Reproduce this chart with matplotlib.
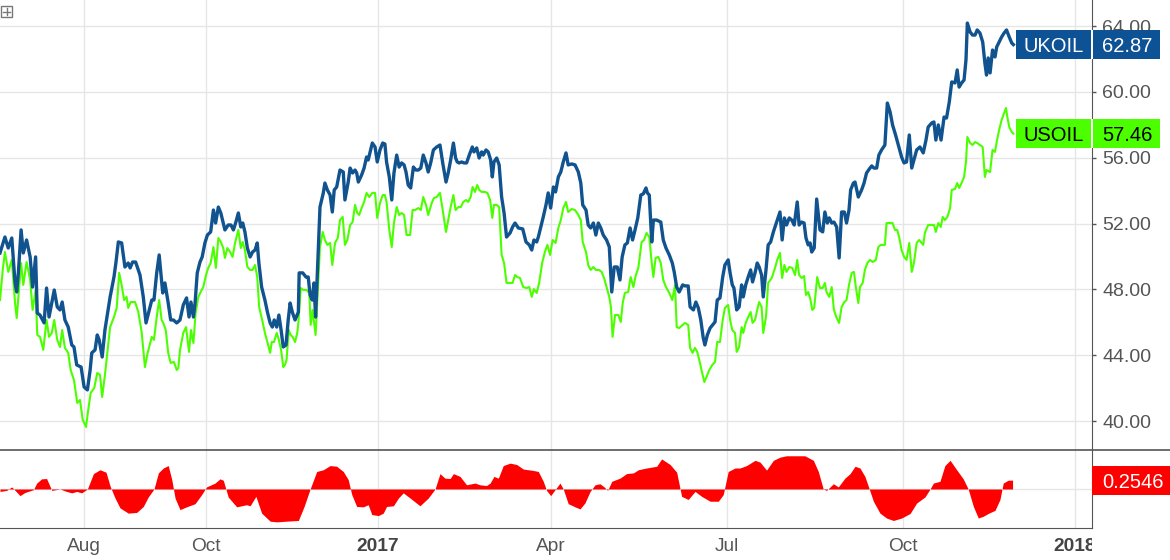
import matplotlib
matplotlib.use('Agg')
import matplotlib.pyplot as plt
from matplotlib.patches import Rectangle
from matplotlib.lines import Line2D

plt.rcParams['font.family'] = ['Liberation Sans', 'DejaVu Sans']

# trading-day index (0 = left edge of the chart, mid June 2016)
uk_day = [
    0.0, 1.8, 3.0, 4.3, 5.5, 6.1, 6.7, 7.7, 8.5, 9.7,
    11.0, 11.9, 13.0, 13.6, 14.6, 16.1, 17.0, 17.9, 19.8, 20.9,
    21.9, 22.7, 23.7, 24.9, 26.2, 27.0, 28.0, 29.6, 30.7, 31.9,
    32.9, 33.5, 34.7, 35.5, 36.2, 37.3, 38.3, 40.2, 41.6, 42.3,
    43.2, 44.4, 45.6, 46.8, 47.5, 48.4, 49.5, 51.1, 52.3, 53.3,
    54.5, 55.4, 56.2, 57.2, 58.1, 59.4, 60.2, 61.4, 62.3, 63.3,
    64.5, 65.7, 66.9, 68.1, 69.0, 69.7, 70.6, 71.2, 72.0, 73.0,
    73.8, 74.8, 75.7, 76.9, 77.9, 78.7, 79.7, 80.6, 81.5, 82.1,
    83.3, 84.3, 85.2, 86.1, 87.0, 87.9, 88.6, 89.4, 90.3, 91.3,
    92.2, 93.1, 93.9, 94.5, 95.5, 96.7, 97.7, 98.6, 99.4, 100.1,
    101.0, 101.8, 102.6, 103.4, 104.4, 105.2, 105.9, 106.7, 107.7, 108.9,
    109.2, 110.5, 111.7, 112.5, 113.2, 114.0, 114.6, 115.2, 116.0, 116.8,
    118.0, 118.6, 119.5, 120.5, 121.3, 122.0, 122.9, 124.1, 125.3, 125.9,
    127.1, 127.8, 128.7, 129.6, 130.2, 130.8, 132.0, 132.9, 133.8, 134.4,
    135.1, 135.9, 136.9, 137.7, 138.7, 139.7, 140.5, 141.1, 142.1, 143.0,
    143.8, 144.8, 145.7, 146.6, 147.5, 148.2, 149.0, 149.9, 150.9, 151.8,
    152.7, 153.6, 154.5, 155.5, 156.3, 157.2, 158.2, 159.4, 160.6, 161.6,
    162.8, 163.6, 164.5, 165.5, 166.3, 166.9, 167.6, 168.5, 169.4, 170.3,
    171.3, 172.4, 173.0, 174.0, 174.9, 175.8, 176.4, 177.4, 178.2, 179.1,
    179.7, 180.3, 181.3, 182.2, 183.1, 184.0, 184.9, 186.2, 187.1, 188.0,
    189.2, 190.8, 192.0, 193.2, 194.1, 194.9, 195.9, 196.5, 197.4, 198.3,
    199.3, 200.1, 201.0, 202.0, 202.8, 203.8, 204.7, 205.6, 206.6, 207.4,
    208.7, 209.9, 211.1, 212.0, 212.7, 213.9, 214.7, 215.6, 216.6, 217.5,
    218.4, 219.3, 220.2, 221.4, 222.4, 223.3, 224.2, 225.3, 226.3, 227.1,
    228.1, 229.0, 230.0, 230.9, 231.8, 232.8, 233.9, 234.8, 235.8, 236.3,
    237.0, 237.9, 238.5, 239.7, 241.2, 242.1, 243.1, 244.3, 245.4, 246.1,
    247.0, 247.9, 249.2, 250.0, 251.2, 251.9, 253.1, 254.0, 254.9, 255.8,
    256.7, 257.3, 258.2, 259.2, 260.1, 261.0, 261.8, 262.8, 263.8, 264.6,
    265.8, 266.5, 267.3, 267.9, 268.9, 269.8, 270.7, 271.3, 272.2, 273.1,
    274.0, 274.7, 275.6, 276.4, 277.1, 278.0, 278.6, 279.6, 280.4, 281.3,
    282.3, 283.5, 284.7, 285.5, 286.3, 287.1, 288.1, 289.0, 289.9, 291.0,
    291.7, 292.6, 293.5, 294.2, 295.0, 295.7, 296.3, 297.2, 298.1, 299.3,
    300.3, 301.1, 302.0, 302.7, 303.6, 304.4, 305.4, 306.3, 307.2, 308.2,
    309.0, 309.9, 310.5, 311.5, 312.1, 313.3, 314.5, 315.4, 316.3, 317.3,
    318.2, 319.0, 320.0, 320.8, 321.8, 323.0, 323.9, 324.9, 325.8, 326.9,
    327.9, 329.1, 330.0, 330.9, 331.9, 332.8, 333.6, 334.6, 335.8, 337.0,
    338.0, 338.8, 340.1, 340.9, 341.6, 342.5, 343.5, 344.6, 345.5, 346.5,
    347.4, 348.6, 349.4, 350.1, 351.0, 351.9, 352.6, 353.1, 354.1, 355.0,
    355.9, 356.7, 357.7, 358.7, 359.5, 360.1, 360.7, 361.4, 362.3, 363.2,
    363.8, 364.7, 365.6, 366.5, 367.4, 368.4, 369.3, 369.9]
uk_price = [
    50.21, 51.18, 50.51, 51.12, 48.39, 47.84, 49.00, 51.61, 50.21, 51.00,
    49.97, 48.14, 49.97, 46.56, 46.44, 45.96, 48.08, 46.32, 47.96, 46.93,
    46.75, 47.23, 46.14, 45.71, 44.62, 44.50, 43.41, 43.28, 42.07, 41.89,
    43.10, 44.14, 44.32, 45.23, 44.93, 43.89, 45.53, 47.54, 48.75, 49.60,
    50.88, 50.82, 49.36, 49.60, 49.30, 49.66, 49.66, 48.87, 47.54, 45.96,
    46.75, 47.35, 47.35, 49.00, 50.09, 47.78, 48.39, 47.17, 46.14, 46.14,
    45.96, 46.14, 47.05, 47.48, 46.32, 47.23, 46.32, 47.17, 49.00, 49.66,
    49.97, 50.82, 51.30, 51.49, 52.82, 52.03, 53.00, 52.64, 52.03, 51.61,
    51.91, 51.91, 51.61, 52.09, 52.64, 51.79, 52.03, 51.49, 50.51, 49.97,
    50.27, 50.39, 50.82, 49.60, 48.14, 47.35, 46.56, 45.96, 45.71, 46.14,
    45.71, 46.44, 45.53, 44.50, 44.62, 46.14, 47.17, 46.62, 46.14, 46.62,
    49.00, 49.00, 48.75, 48.75, 47.66, 47.35, 48.39, 46.32, 49.60, 53.00,
    53.85, 54.46, 54.04, 53.73, 52.70, 54.04, 54.22, 55.25, 55.13, 53.43,
    54.52, 55.37, 55.07, 55.25, 55.07, 54.52, 54.95, 55.37, 56.04, 55.86,
    56.35, 56.89, 56.65, 55.74, 56.47, 56.89, 56.83, 55.74, 54.83, 53.43,
    55.07, 56.16, 55.43, 55.68, 55.56, 55.13, 54.34, 54.16, 55.43, 55.25,
    55.25, 55.37, 56.16, 55.68, 55.13, 55.68, 56.47, 56.65, 56.77, 55.68,
    54.52, 55.07, 55.86, 56.89, 55.98, 55.74, 55.68, 55.74, 55.68, 55.68,
    56.16, 56.65, 56.35, 56.59, 55.98, 56.35, 56.16, 56.47, 56.35, 55.86,
    54.83, 55.74, 55.98, 55.56, 53.61, 52.64, 51.18, 51.43, 51.79, 52.03,
    51.73, 51.67, 50.88, 50.70, 50.39, 51.00, 50.88, 51.18, 51.79, 52.40,
    53.13, 53.86, 52.94, 54.22, 53.92, 54.83, 55.13, 55.74, 56.29, 55.56,
    55.62, 55.56, 55.13, 54.46, 53.13, 52.82, 51.91, 51.73, 52.03, 51.30,
    52.03, 51.73, 51.30, 51.00, 50.58, 47.84, 49.36, 49.36, 48.57, 49.97,
    50.70, 50.82, 51.73, 51.00, 51.61, 52.34, 53.73, 53.80, 54.16, 53.86,
    53.73, 50.88, 52.21, 52.21, 52.09, 51.00, 50.51, 50.09, 49.60, 49.06,
    48.14, 47.84, 48.27, 48.21, 48.21, 46.93, 46.75, 47.23, 46.87, 46.14,
    45.05, 44.62, 45.23, 45.65, 45.84, 46.02, 47.35, 47.48, 48.75, 49.48,
    49.79, 49.00, 48.27, 48.08, 46.75, 46.93, 48.27, 47.54, 48.27, 48.75,
    49.18, 48.45, 49.00, 49.60, 49.36, 48.87, 47.54, 49.18, 50.70, 50.88,
    51.49, 52.09, 52.70, 51.00, 52.34, 51.91, 52.34, 52.21, 51.91, 53.31,
    51.91, 52.09, 52.03, 51.12, 50.70, 50.82, 50.27, 50.51, 53.49, 51.61,
    51.49, 52.70, 52.03, 52.34, 52.03, 52.09, 51.79, 49.91, 52.70, 52.70,
    52.03, 52.82, 54.04, 54.46, 54.52, 53.61, 54.04, 54.46, 55.07, 55.31,
    55.50, 55.37, 55.37, 56.16, 56.47, 56.77, 59.32, 58.78, 57.99, 57.38,
    56.77, 56.04, 55.68, 55.74, 57.38, 55.37, 55.86, 56.47, 56.65, 56.29,
    57.07, 57.86, 58.11, 58.17, 57.07, 57.99, 57.07, 58.47, 58.41, 59.38,
    60.60, 60.54, 61.33, 60.29, 60.54, 60.72, 61.94, 64.18, 63.64, 63.45,
    63.45, 63.76, 63.57, 63.03, 61.75, 61.02, 62.06, 61.15, 62.54, 62.12,
    62.72, 63.03, 63.33, 63.57, 63.76, 63.33, 62.97, 62.87]

us_day = [
    0.0, 1.0, 1.8, 3.0, 4.3, 5.5, 6.1, 6.7, 7.7, 8.5,
    9.7, 11.0, 11.9, 13.0, 13.6, 14.6, 15.8, 17.0, 17.9, 18.9,
    19.8, 20.9, 21.9, 22.7, 23.7, 24.9, 25.8, 27.0, 28.2, 29.2,
    30.2, 31.4, 32.2, 33.1, 34.4, 35.5, 36.5, 37.3, 38.3, 40.2,
    41.6, 42.6, 43.5, 44.4, 45.3, 46.2, 46.8, 47.7, 49.3, 50.5,
    51.7, 52.9, 53.9, 55.4, 56.2, 57.2, 58.1, 59.0, 59.6, 60.5,
    61.4, 62.3, 63.5, 64.5, 65.1, 65.7, 66.9, 67.9, 69.0, 69.7,
    70.6, 71.4, 72.4, 73.6, 74.2, 75.2, 76.0, 76.9, 77.9, 78.8,
    79.7, 80.6, 81.5, 82.1, 83.0, 84.0, 84.9, 85.8, 87.0, 87.9,
    88.6, 89.4, 90.3, 91.3, 92.2, 93.1, 93.9, 94.6, 95.7, 96.7,
    97.7, 98.6, 99.2, 100.0, 101.0, 101.8, 102.6, 103.4, 104.0, 104.6,
    105.4, 106.1, 106.8, 107.7, 108.5, 108.9, 109.8, 110.7, 111.9, 112.9,
    113.4, 114.1, 115.2, 116.0, 116.8, 117.8, 118.6, 119.5, 120.5, 121.3,
    122.3, 123.3, 124.1, 125.1, 125.9, 126.8, 127.8, 128.7, 129.6, 130.4,
    131.1, 132.0, 132.9, 133.8, 134.8, 135.9, 136.9, 137.7, 138.7, 139.7,
    140.5, 141.1, 142.1, 143.0, 143.8, 144.8, 145.7, 146.6, 147.5, 148.4,
    149.7, 150.6, 151.5, 152.7, 153.6, 154.5, 155.5, 156.3, 157.6, 158.4,
    159.4, 160.6, 161.6, 162.8, 163.6, 164.5, 165.5, 166.3, 167.3, 168.2,
    169.1, 170.1, 170.9, 171.8, 172.5, 173.4, 174.2, 174.9, 175.8, 177.0,
    177.9, 178.9, 179.7, 180.3, 181.3, 182.2, 183.1, 184.0, 184.9, 186.2,
    187.1, 188.0, 188.8, 189.8, 191.0, 192.2, 193.2, 194.1, 194.9, 195.9,
    196.8, 197.9, 198.9, 199.8, 200.8, 201.7, 202.8, 203.8, 204.7, 205.6,
    206.6, 207.4, 208.7, 209.9, 211.1, 212.0, 212.7, 213.9, 214.7, 215.6,
    216.6, 217.5, 218.7, 219.6, 220.5, 221.4, 222.4, 223.0, 223.6, 224.5,
    225.7, 226.6, 227.3, 228.1, 229.3, 230.2, 231.2, 232.1, 233.0, 234.2,
    235.1, 236.0, 237.0, 237.9, 238.5, 239.3, 240.3, 241.2, 242.1, 243.1,
    244.3, 245.4, 246.4, 247.0, 247.9, 249.2, 250.0, 251.2, 251.9, 252.8,
    253.7, 254.5, 255.5, 256.3, 257.1, 257.9, 258.9, 260.0, 261.0, 261.8,
    262.8, 263.8, 264.6, 265.8, 266.5, 267.3, 268.3, 268.9, 269.8, 270.7,
    271.3, 272.2, 273.1, 274.0, 274.7, 275.6, 276.4, 277.1, 278.0, 278.6,
    279.6, 280.4, 281.7, 282.9, 283.7, 284.7, 285.5, 286.3, 287.1, 288.1,
    289.2, 290.2, 291.0, 291.7, 292.6, 293.5, 294.2, 295.0, 295.7, 296.5,
    297.2, 298.3, 299.3, 300.3, 301.1, 301.7, 302.7, 303.6, 304.4, 305.4,
    306.3, 307.2, 308.2, 309.0, 309.9, 310.9, 311.7, 312.4, 313.3, 313.9,
    314.9, 315.7, 316.6, 317.6, 318.5, 319.7, 320.6, 321.5, 323.0, 323.6,
    324.6, 325.8, 326.7, 327.5, 328.2, 329.1, 330.0, 330.9, 331.9, 332.8,
    333.6, 334.6, 335.5, 336.4, 337.0, 337.6, 338.8, 340.1, 340.9, 341.6,
    342.5, 343.4, 344.1, 344.9, 345.8, 346.8, 347.4, 348.6, 349.4, 350.1,
    351.0, 351.9, 352.6, 353.1, 354.1, 355.0, 355.9, 356.7, 357.7, 358.7,
    359.5, 360.1, 361.4, 362.3, 363.2, 363.8, 364.7, 365.6, 366.5, 367.2,
    367.7, 368.4, 369.3, 369.9]
us_price = [
    47.35, 49.18, 50.27, 49.06, 49.79, 47.17, 46.26, 47.54, 49.60, 48.27,
    49.66, 48.57, 46.75, 47.96, 45.23, 45.11, 44.32, 46.14, 45.11, 45.35,
    46.14, 44.93, 44.50, 45.53, 44.44, 44.14, 43.10, 42.49, 41.10, 41.28,
    40.07, 39.64, 40.67, 41.71, 42.01, 42.92, 42.80, 41.46, 42.80, 45.71,
    46.32, 46.87, 49.00, 48.27, 47.35, 47.54, 46.87, 47.23, 47.23, 46.62,
    45.41, 43.28, 44.14, 45.11, 44.93, 46.32, 47.35, 46.14, 45.96, 45.53,
    44.14, 43.53, 43.59, 43.10, 43.22, 44.32, 45.35, 45.71, 44.20, 45.53,
    44.74, 46.56, 47.54, 47.96, 48.14, 48.87, 49.30, 49.60, 50.57, 49.30,
    51.12, 50.88, 50.51, 49.91, 50.51, 50.27, 49.97, 50.82, 51.61, 50.51,
    50.88, 50.39, 49.36, 49.18, 49.18, 49.48, 48.75, 46.93, 46.14, 45.35,
    44.74, 44.14, 44.80, 44.80, 45.35, 44.93, 44.32, 43.28, 43.41, 43.71,
    45.53, 45.23, 45.11, 44.80, 45.35, 45.96, 48.08, 47.96, 47.96, 47.78,
    45.84, 46.75, 45.23, 47.96, 50.57, 51.49, 51.00, 50.70, 50.82, 49.48,
    50.82, 51.12, 52.21, 52.40, 50.70, 51.00, 51.91, 52.09, 53.13, 52.64,
    52.52, 52.94, 53.31, 53.86, 53.61, 53.86, 53.86, 52.34, 53.25, 53.73,
    53.73, 53.31, 51.61, 50.57, 52.03, 53.00, 52.52, 52.64, 52.52, 51.30,
    51.30, 52.82, 52.82, 52.94, 52.82, 53.61, 53.13, 52.52, 53.25, 53.55,
    53.61, 53.86, 52.82, 51.49, 52.21, 53.00, 53.73, 52.82, 53.00, 53.00,
    53.31, 53.43, 53.31, 53.61, 54.22, 53.92, 54.34, 54.04, 53.92, 53.92,
    53.86, 53.43, 52.34, 53.13, 53.13, 53.00, 50.09, 49.60, 48.39, 48.39,
    48.39, 48.87, 48.75, 48.69, 48.14, 48.08, 48.14, 47.54, 48.02, 47.78,
    48.39, 49.60, 50.27, 50.70, 50.09, 51.00, 50.82, 51.73, 52.21, 52.94,
    53.31, 52.70, 52.88, 52.82, 52.52, 52.21, 50.88, 50.27, 49.48, 49.18,
    49.36, 49.18, 49.18, 49.06, 48.69, 48.14, 47.54, 46.93, 45.11, 46.44,
    46.44, 46.02, 47.17, 47.78, 47.84, 48.75, 48.14, 48.87, 49.30, 50.88,
    51.00, 51.43, 51.18, 49.60, 48.75, 49.91, 49.97, 49.60, 48.57, 48.14,
    47.78, 47.35, 48.27, 45.71, 45.65, 45.84, 45.96, 45.84, 44.44, 44.14,
    44.44, 44.20, 43.53, 42.92, 42.37, 42.68, 43.10, 43.41, 43.59, 44.80,
    44.80, 46.14, 46.87, 47.05, 46.14, 45.53, 45.35, 44.20, 44.50, 45.71,
    45.35, 45.96, 46.32, 46.62, 45.96, 46.14, 46.75, 47.23, 46.93, 45.35,
    46.32, 48.39, 48.69, 49.30, 49.79, 50.21, 48.69, 49.48, 49.06, 49.36,
    49.30, 48.87, 49.79, 48.87, 48.69, 48.81, 47.66, 47.84, 47.48, 46.75,
    46.87, 48.75, 48.08, 48.08, 48.39, 47.84, 47.54, 48.14, 46.75, 46.26,
    45.96, 46.93, 47.23, 47.35, 48.27, 49.00, 49.06, 48.14, 47.17, 48.14,
    48.39, 49.18, 49.60, 49.79, 49.66, 49.79, 50.57, 50.70, 50.70, 52.03,
    52.03, 52.03, 51.61, 51.61, 51.18, 50.39, 49.97, 49.79, 50.82, 49.06,
    49.60, 50.82, 51.00, 50.82, 50.70, 51.43, 51.91, 51.91, 51.91, 51.49,
    52.03, 51.79, 52.40, 52.21, 52.40, 52.94, 54.04, 54.10, 54.46, 54.16,
    54.46, 54.83, 55.74, 57.26, 56.89, 56.77, 56.95, 56.89, 56.77, 56.65,
    54.83, 55.25, 55.13, 56.47, 56.35, 56.95, 57.68, 58.29, 58.71, 59.02,
    58.47, 57.86, 57.56, 57.46]

# correlation study (lower pane)
corr_day = [
    0.0, 2.4, 4.3, 5.5, 7.3, 9.1, 12.2, 13.4, 15.2, 17.0,
    18.9, 21.9, 24.3, 26.2, 28.0, 29.8, 31.9, 34.1, 36.5, 38.7,
    40.2, 42.0, 43.8, 46.8, 49.9, 52.3, 54.1, 56.2, 57.8, 59.6,
    61.4, 62.7, 63.9, 65.7, 68.1, 71.2, 73.6, 75.4, 78.5, 80.3,
    81.5, 83.3, 86.4, 90.0, 91.3, 93.4, 95.5, 98.6, 101.0, 104.6,
    108.9, 111.0, 113.2, 115.6, 118.0, 120.5, 122.9, 125.3, 127.1, 128.4,
    130.2, 132.6, 134.4, 135.7, 138.1, 139.9, 141.1, 143.6, 145.4, 147.2,
    149.7, 153.3, 156.3, 158.8, 160.6, 162.4, 164.3, 165.5, 167.9, 170.3,
    173.4, 175.2, 177.6, 178.9, 180.3, 181.9, 183.7, 186.2, 188.6, 191.0,
    194.7, 196.5, 198.3, 199.5, 201.0, 202.6, 204.4, 205.6, 207.4, 209.9,
    211.7, 213.5, 215.4, 217.2, 219.0, 220.5, 221.8, 223.3, 226.3, 228.7,
    231.2, 233.0, 236.0, 239.7, 241.5, 244.6, 247.0, 248.8, 251.2, 253.7,
    256.1, 259.2, 262.2, 264.0, 265.8, 268.3, 270.1, 272.5, 275.6, 277.4,
    279.8, 282.3, 284.7, 287.1, 293.8, 296.9, 298.7, 300.5, 301.7, 304.2,
    306.0, 308.4, 310.3, 312.1, 313.9, 315.7, 317.3, 318.8, 321.2, 323.6,
    326.1, 329.1, 332.2, 334.6, 337.6, 339.5, 340.7, 343.1, 344.9, 346.8,
    349.2, 351.6, 353.4, 355.3, 357.1, 358.9, 360.7, 363.2, 365.0, 366.2,
    368.0, 369.6]
corr_val = [
    -0.07, -0.04, 0.06, -0.04, -0.19, -0.10, -0.02, 0.17, 0.29, 0.30,
    -0.04, 0.0, -0.07, -0.11, -0.07, -0.11, 0.0, 0.44, 0.55, 0.48,
    0.08, -0.26, -0.54, -0.69, -0.67, -0.50, -0.23, 0.0, 0.46, 0.60,
    0.67, 0.27, -0.26, -0.59, -0.51, -0.42, -0.16, 0.06, 0.17, 0.29,
    0.25, -0.23, -0.51, -0.45, -0.48, -0.21, -0.69, -0.92, -0.94, -0.92,
    -0.90, -0.50, 0.0, 0.50, 0.55, 0.67, 0.65, 0.50, 0.27, -0.16,
    -0.50, -0.51, -0.45, -0.73, -0.76, -0.69, -0.50, -0.48, -0.26, -0.11,
    -0.26, -0.48, -0.26, 0.0, 0.44, 0.31, 0.30, 0.44, 0.36, 0.12,
    0.17, 0.12, 0.10, 0.17, 0.36, 0.31, 0.67, 0.74, 0.70, 0.57,
    0.53, 0.50, 0.22, -0.04, -0.19, -0.02, 0.17, 0.0, -0.42, -0.51,
    -0.57, -0.40, -0.07, 0.12, 0.15, 0.06, -0.04, 0.22, 0.31, 0.44,
    0.46, 0.55, 0.60, 0.65, 0.86, 0.70, 0.48, -0.21, -0.30, -0.07,
    -0.21, -0.35, -0.35, -0.16, 0.50, 0.60, 0.60, 0.67, 0.82, 0.77,
    0.54, 0.82, 0.91, 0.95, 0.95, 0.82, 0.50, 0.0, -0.04, 0.15,
    0.06, 0.31, 0.44, 0.65, 0.60, 0.36, 0.0, -0.35, -0.69, -0.83,
    -0.90, -0.83, -0.70, -0.40, -0.23, 0.0, 0.17, 0.22, 0.67, 0.82,
    0.55, 0.29, 0.0, -0.50, -0.83, -0.78, -0.70, -0.61, -0.30, 0.17,
    0.25, 0.2546]

price_ticks = [40, 44, 48, 52, 56, 60, 64]
month_pos = [30.7, 75.2, 138.0, 201.1, 265.4, 329.6, 392.4]
month_lbl = ['Aug', 'Oct', '2017', 'Apr', 'Jul', 'Oct', '2018']

UK_COL = '#10538f'
US_COL = '#4cff00'
GRID = '#e6e6e6'
AX_COL = '#555555'

W, H = 1170, 560
fig = plt.figure(figsize=(W / 100, H / 100), dpi=100)
right = 1092 / W
x_max = 398.6

ax = fig.add_axes([0, 1 - 450 / H, right, 450 / H])
axc = fig.add_axes([0, 1 - 528 / H, right, 78 / H])
strip = fig.add_axes([0, 0, right, 32 / H])

# price pane
ax.plot(us_day, us_price, color=US_COL, lw=1.5, solid_joinstyle='round')
ax.plot(uk_day, uk_price, color=UK_COL, lw=2.4, solid_joinstyle='round')
ax.set_xlim(0, x_max)
ax.set_ylim(38.24, 65.58)
ax.set_xticks(month_pos)
ax.set_yticks(price_ticks)
ax.set_yticklabels(['%.2f' % v for v in price_ticks])
ax.yaxis.tick_right()
ax.tick_params(axis='x', length=0, labelbottom=False)
ax.tick_params(axis='y', direction='out', length=3, width=1, color=AX_COL,
               pad=4.5, labelsize=14, labelcolor=AX_COL)
ax.grid(True, color=GRID, lw=1)
for s in ['top', 'left', 'bottom']:
    ax.spines[s].set_visible(False)
ax.spines['right'].set_color(AX_COL)

# correlation pane
axc.fill_between(corr_day, corr_val, 0, color='#ff0000', lw=0, zorder=3)
axc.set_xlim(0, x_max)
axc.set_ylim(-1.115, 1.115)
axc.set_yticks([0])
axc.tick_params(axis='y', length=0, labelleft=False, labelright=False)
axc.set_xticks(month_pos)
axc.set_xticklabels(month_lbl[:-1] + [''])
axc.tick_params(axis='x', length=0, pad=7.2, labelsize=13.8, labelcolor=AX_COL)
for lab in axc.get_xticklabels():
    if lab.get_text() == '2017':
        lab.set_fontweight('bold')
        lab.set_color('#444444')
axc.grid(True, color=GRID, lw=1)
for s in ['top', 'left']:
    axc.spines[s].set_visible(False)
axc.spines['right'].set_color(AX_COL)
axc.spines['bottom'].set_color(AX_COL)

# 2018 label, cut by the price scale edge
strip.set_xlim(0, x_max)
strip.set_ylim(0, 1)
strip.axis('off')
strip.text(month_pos[-1], 0.68, month_lbl[-1], ha='center', va='top',
           fontsize=13.8, fontweight='bold', color='#444444', clip_on=True)

# pane separator
fig.add_artist(Line2D([0, 1], [1 - 450 / H] * 2, transform=fig.transFigure,
                      color=AX_COL, lw=1.2, zorder=4))


def price_tag(axis, value, name, text, face, ink, x0=1016, x1=1160):
    yc = axis.transData.transform((0, value))[1] / H
    h = 29 / H
    fig.add_artist(Rectangle((x0 / W, yc - h / 2), (x1 - x0) / W, h,
                             transform=fig.transFigure, facecolor=face,
                             edgecolor='none', zorder=5))
    if name:
        fig.add_artist(Rectangle((1091 / W, yc - h / 2), 2 / W, h,
                                 transform=fig.transFigure, facecolor='white',
                                 edgecolor='none', zorder=6))
        fig.text((x0 + 1091) / 2 / W, yc, name, color=ink, fontsize=14.5,
                 ha='center', va='center_baseline', zorder=7)
    fig.text(1102 / W, yc, text, color=ink, fontsize=14.5,
             ha='left', va='center_baseline', zorder=7)


price_tag(ax, uk_price[-1], 'UKOIL', '%.2f' % uk_price[-1], '#0e5296', 'white')
price_tag(ax, us_price[-1], 'USOIL', '%.2f' % us_price[-1], US_COL, 'black')
price_tag(axc, corr_val[-1], '', '%.4f' % corr_val[-1], '#ff0000', 'white',
          x0=1092, x1=1170)

# small maximize icon top-left
fig.add_artist(Rectangle((1 / W, 1 - 17 / H), 11 / W, 11 / H,
                         transform=fig.transFigure, facecolor='none',
                         edgecolor='#777777', lw=1, zorder=5))
fig.add_artist(Line2D([3 / W, 10 / W], [1 - 11.5 / H] * 2,
                      transform=fig.transFigure, color='#777777', lw=1, zorder=5))
fig.add_artist(Line2D([6.5 / W] * 2, [1 - 8 / H, 1 - 15 / H],
                      transform=fig.transFigure, color='#777777', lw=1, zorder=5))

fig.savefig('out.png', dpi=100)
